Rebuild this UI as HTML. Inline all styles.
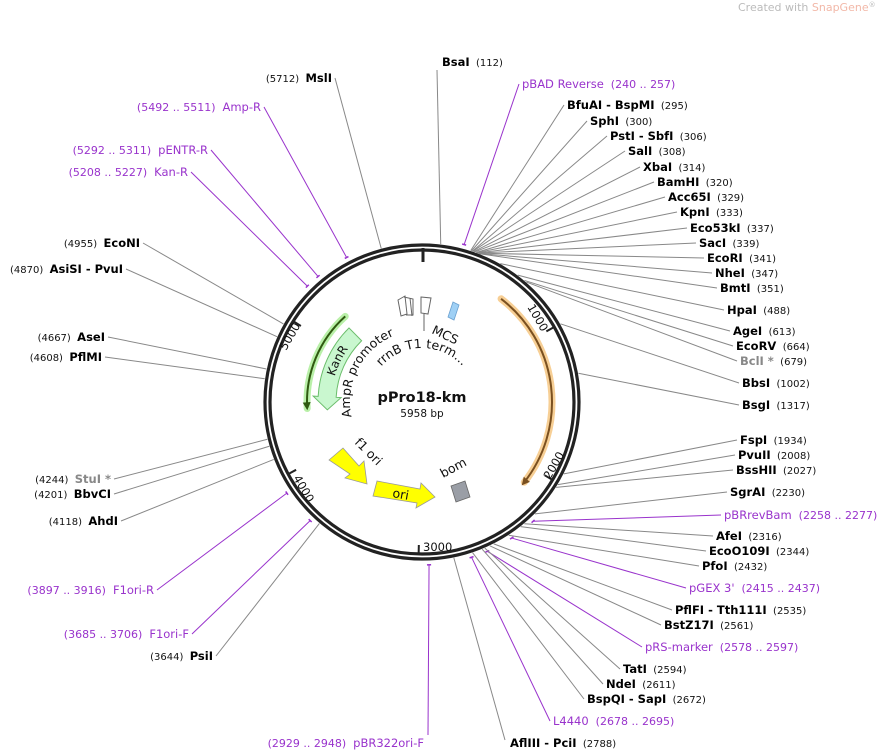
<!DOCTYPE html>
<html><head><meta charset="utf-8"><style>
html,body{margin:0;padding:0;background:#fff;}
svg{display:block;font-family:"DejaVu Sans","Liberation Sans",sans-serif;}
</style></head><body>
<svg id="s" width="890" height="751" viewBox="0 0 890 751" xmlns="http://www.w3.org/2000/svg">
<text x="738" y="11" font-size="11" fill="#bbb">Created with <tspan fill="#f2b8a8">SnapGene</tspan><tspan font-size="7" dy="-4">®</tspan></text>
<g id="lines"></g>
<circle cx="422" cy="402" r="157" fill="none" stroke="#222" stroke-width="3.2"/>
<circle cx="422" cy="402" r="152" fill="none" stroke="#222" stroke-width="3.2"/>
<line x1="423" y1="248" x2="423" y2="262" stroke="#222" stroke-width="3"/>
<g id="ticks"></g>
<path id="oarc" fill="none" stroke="#f7cf95" stroke-width="7" stroke-linecap="round"/>
<path id="oarc2" fill="none" stroke="#7a5020" stroke-width="2"/>
<path id="garc" fill="none" stroke="#b9f0a8" stroke-width="7" stroke-linecap="round"/>
<path id="garc2" fill="none" stroke="#2f5a10" stroke-width="2"/>
<g id="heads"></g>
<path id="kan" fill="#c9f7cf" stroke="#6bbd6b" stroke-width="1"/>
<path id="kanpath" fill="none"/>
<text font-size="12" fill="#111"><textPath href="#kanpath" startOffset="50%" text-anchor="middle">KanR</textPath></text>
<path id="amppath" fill="none"/>
<text font-size="12.5" fill="#111"><textPath href="#amppath" startOffset="50%" text-anchor="middle">AmpR promoter</textPath></text>
<path id="rrnpath" fill="none"/>
<text font-size="12.5" fill="#111"><textPath href="#rrnpath" startOffset="50%" text-anchor="middle">rrnB T1 term...</textPath></text>
<text font-size="12.5" fill="#111" transform="translate(431,333) rotate(25)">MCS</text>
<g fill="none" stroke="#666" stroke-width="1">
<path d="M398,300 L405,296 L407,314 L401,316 Z"/><path d="M404,297 L413,299 L413,315 L406,315"/><path d="M410,298 L412,316"/>
<path d="M421,297 L431,298 L428,314 L421,313 Z"/><line x1="424" y1="314" x2="424" y2="331"/>
</g>
<path d="M453,302 L459,305 L454,320 L448,317 Z" fill="#9fd0f5" stroke="#6aa0d0" stroke-width="0.8"/>
<text x="422" y="402" font-size="14.5" font-weight="bold" text-anchor="middle" fill="#111">pPro18-km</text>
<text x="422" y="417" font-size="10.5" text-anchor="middle" fill="#111">5958 bp</text>
<path d="M329,460 L343,448 L359,466 L364,461 L367,484 L345,478 L350,474 Z" fill="#ffff00" stroke="#999" stroke-width="0.8"/>
<text font-size="12.5" transform="translate(354,443) rotate(45)" fill="#111">f1 ori</text>
<path d="M377,481 L420,489 L421,483 L435,497 L416,508 L417,503 L373,496 Z" fill="#ffff00" stroke="#999" stroke-width="0.8"/>
<text font-size="12.5" transform="translate(392,497) rotate(10)" fill="#111">ori</text>
<path d="M451,486 L465,481 L470,497 L456,502 Z" fill="#9a9ea6" stroke="#666" stroke-width="0.8"/>
<text font-size="12.5" transform="translate(443,478) rotate(-28)" fill="#111">bom</text>
<g id="labels"></g>
</svg>
<script>
var NS="http://www.w3.org/2000/svg",cx=422,cy=402,N=5958;
function pt(bp,r){var a=bp/N*2*Math.PI;return [cx+r*Math.sin(a),cy-r*Math.cos(a)];}
function arc(b1,b2,r,sweep){var p=pt(b1,r),q=pt(b2,r);var d=sweep?((b2-b1+N)%N):((b1-b2+N)%N);var large=d/N>0.5?1:0;return "M"+p[0]+","+p[1]+" A"+r+","+r+" 0 "+large+","+sweep+" "+q[0]+","+q[1];}
function el(t,a,par){var e=document.createElementNS(NS,t);for(var k in a)e.setAttribute(k,a[k]);document.getElementById(par).appendChild(e);return e;}
document.getElementById("oarc").setAttribute("d",arc(620,2120,130,1));
document.getElementById("oarc2").setAttribute("d",arc(620,2130,130,1));
document.getElementById("garc").setAttribute("d",arc(5265,4415,115,0));
document.getElementById("garc2").setAttribute("d",arc(5265,4420,115,0));
function head(bp,r,dir,col){var a=bp/N*2*Math.PI;var p=pt(bp,r);var tx=Math.cos(a)*dir,ty=Math.sin(a)*dir;var nx=Math.sin(a),ny=-Math.cos(a);
var b=[p[0]-tx*8,p[1]-ty*8];el("path",{d:"M"+p[0]+","+p[1]+" L"+(b[0]+nx*4)+","+(b[1]+ny*4)+" L"+(b[0]-nx*4)+","+(b[1]-ny*4)+"Z",fill:col},"heads");}
head(2150,130,1,"#7a5020");head(4400,115,-1,"#2f5a10");
(function(){var r1=86,r2=104,b1=5220,b2=4520,tip=4390;var A=pt(b1,r2),B=pt(b2,r2),C=pt(b2,r2+5),T=pt(tip,95),D=pt(b2,r1-5),E=pt(b2,r1),F=pt(b1,r1);
document.getElementById("kan").setAttribute("d","M"+A+" A"+r2+","+r2+" 0 0,0 "+B+" L"+C+" L"+T+" L"+D+" L"+E+" A"+r1+","+r1+" 0 0,1 "+F+" Z");
document.getElementById("kanpath").setAttribute("d",arc(4550,5250,91,1));
document.getElementById("amppath").setAttribute("d",arc(4150,5700,72,1));
document.getElementById("rrnpath").setAttribute("d",arc(4950,1000,54,1));})();
[[1000,"1000"],[2000,"2000"],[3000,"3000"],[4000,"4000"],[5000,"5000"]].forEach(function(t){var p=pt(t[0],151),q=pt(t[0],143);el("line",{x1:p[0],y1:p[1],x2:q[0],y2:q[1],stroke:"#222","stroke-width":2},"ticks");
var tx=el("text",{x:0,y:0,"font-size":11.5,fill:"#111","text-anchor":"start"},"ticks");
var tr={1000:"translate(527,307) rotate(60)",2000:"translate(550,480) rotate(-60)",3000:"translate(423,551)",4000:"translate(293,478) rotate(60)",5000:"translate(286,351) rotate(-60)"};
tx.setAttribute("transform",tr[t[0]]);tx.textContent=t[1];});
var L=[
["BsaI","(112)",442,66,"R",112,"e"],
["pBAD Reverse","(240 .. 257)",522,88,"R",248,"p"],
["BfuAI - BspMI","(295)",567,109,"R",295,"e"],
["SphI","(300)",590,125,"R",300,"e"],
["PstI - SbfI","(306)",610,140,"R",306,"e"],
["SalI","(308)",628,155,"R",308,"e"],
["XbaI","(314)",643,171,"R",314,"e"],
["BamHI","(320)",657,186,"R",320,"e"],
["Acc65I","(329)",668,201,"R",329,"e"],
["KpnI","(333)",680,216,"R",333,"e"],
["Eco53kI","(337)",690,232,"R",337,"e"],
["SacI","(339)",699,247,"R",339,"e"],
["EcoRI","(341)",707,262,"R",341,"e"],
["NheI","(347)",715,277,"R",347,"e"],
["BmtI","(351)",720,292,"R",351,"e"],
["HpaI","(488)",727,314,"R",488,"e"],
["AgeI","(613)",733,335,"R",613,"e"],
["EcoRV","(664)",736,350,"R",664,"e"],
["BclI *","(679)",740,365,"R",679,"g"],
["BbsI","(1002)",742,387,"R",1002,"e"],
["BsgI","(1317)",742,409,"R",1317,"e"],
["FspI","(1934)",740,444,"R",1934,"e"],
["PvuII","(2008)",738,459,"R",2008,"e"],
["BssHII","(2027)",736,474,"R",2027,"e"],
["SgrAI","(2230)",730,496,"R",2230,"e"],
["pBRrevBam","(2258 .. 2277)",724,519,"R",2268,"p"],
["AfeI","(2316)",716,540,"R",2316,"e"],
["EcoO109I","(2344)",709,555,"R",2344,"e"],
["PfoI","(2432)",702,570,"R",2432,"e"],
["pGEX 3'","(2415 .. 2437)",689,592,"R",2426,"p"],
["PflFI - Tth111I","(2535)",675,614,"R",2535,"e"],
["BstZ17I","(2561)",664,629,"R",2561,"e"],
["pRS-marker","(2578 .. 2597)",645,651,"R",2588,"p"],
["TatI","(2594)",623,673,"R",2594,"e"],
["NdeI","(2611)",606,688,"R",2611,"e"],
["BspQI - SapI","(2672)",587,703,"R",2672,"e"],
["L4440","(2678 .. 2695)",553,725,"R",2686,"p"],
["AflIII - PciI","(2788)",510,747,"R",2788,"e"],
["pBR322ori-F","(2929 .. 2948)",424,747,"L",2938,"p"],
["MslI","(5712)",332,82,"L",5712,"e"],
["Amp-R","(5492 .. 5511)",261,111,"L",5502,"p"],
["pENTR-R","(5292 .. 5311)",208,154,"L",5302,"p"],
["Kan-R","(5208 .. 5227)",188,176,"L",5218,"p"],
["EcoNI","(4955)",140,247,"L",4955,"e"],
["AsiSI - PvuI","(4870)",123,273,"L",4870,"e"],
["AseI","(4667)",105,341,"L",4667,"e"],
["PflMI","(4608)",102,361,"L",4608,"e"],
["StuI *","(4244)",111,483,"L",4244,"g"],
["BbvCI","(4201)",111,498,"L",4201,"e"],
["AhdI","(4118)",118,525,"L",4118,"e"],
["F1ori-R","(3897 .. 3916)",154,594,"L",3906,"p"],
["F1ori-F","(3685 .. 3706)",189,638,"L",3696,"p"],
["PsiI","(3644)",213,660,"L",3644,"e"]
];
var PUR="#9933cc";
L.forEach(function(d){var name=d[0],num=d[1],x=d[2],y=d[3],side=d[4],bp=d[5],ty=d[6];
var col=ty=="p"?PUR:"#000",ncol=ty=="g"?"#888":col;
var t=el("text",{x:x,y:y,"text-anchor":side=="R"?"start":"end",fill:col},"labels");
function sp(s,bold,fs,c){var e=document.createElementNS(NS,"tspan");e.setAttribute("font-size",fs);if(bold)e.setAttribute("font-weight","bold");e.setAttribute("fill",c);e.textContent=s;t.appendChild(e);}
if(side=="R"){sp(name,ty!="p",11.5,ncol);sp("\u00a0\u00a0"+num,false,ty=="p"?11:10,ty=="p"?PUR:"#111");}
else{sp(num+"\u00a0\u00a0",false,ty=="p"?11:10,ty=="p"?PUR:"#111");sp(name,ty!="p",11.5,ncol);}
var ax,ay=y-4;
if(side=="R"){ax=x-3;}else{ax=x+3;}
if(name=="BsaI"){ax=437;ay=70;}
if(name=="AflIII - PciI"){ax=505;ay=740;}
if(name=="pBR322ori-F"){ax=428;ay=735;}
var r=ty=="p"?163:159;var p=pt(bp,r);
el("line",{x1:ax,y1:ay,x2:p[0],y2:p[1],stroke:ty=="p"?PUR:"#888","stroke-width":1},"lines");
if(ty=="p"){var q1=pt(bp-12,163),q2=pt(bp+12,163);el("path",{d:"M"+q1[0]+","+q1[1]+" L"+q2[0]+","+q2[1],stroke:PUR,"stroke-width":1.5,fill:"none"},"lines");}
});
</script>
</body></html>
